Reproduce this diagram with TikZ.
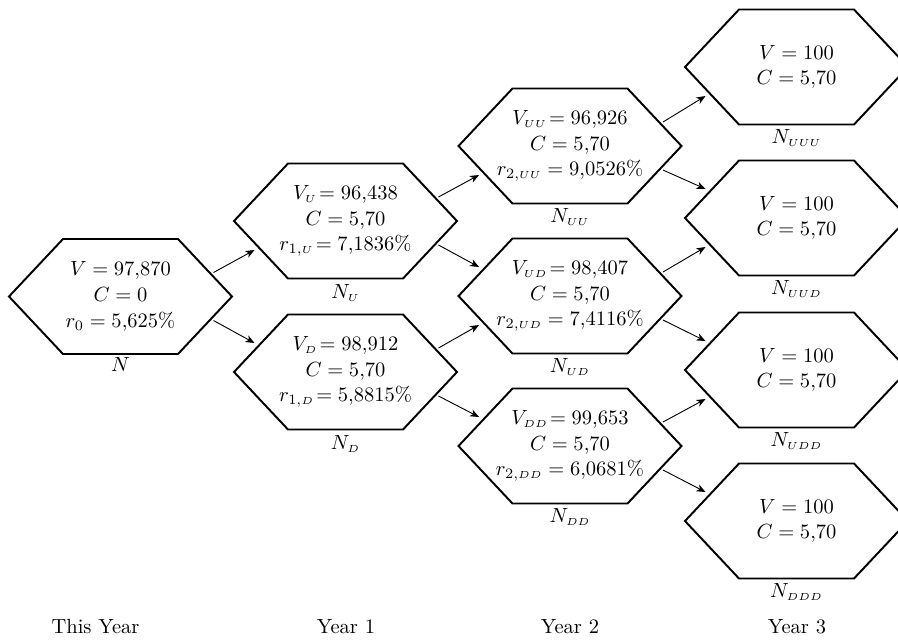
\documentclass[tikz,border=0pt]{standalone}
\usetikzlibrary{calc,arrows.meta}
\begin{document}
\begin{tikzpicture}[x=0.4878pt,y=-0.4878pt,
  hexline/.style={line width=0.95pt, line join=miter},
  txt/.style={align=center, inner sep=0pt, font=\fontsize{10}{12.6}\selectfont},
  lab/.style={anchor=north, inner sep=0pt},
  yr/.style={anchor=base, inner sep=0pt},
  arr/.style={line width=0.45pt, -{Stealth[length=4.4pt,width=3.6pt,inset=1.3pt]}}]
\clip (0,0) rectangle (898,639);
% node texts
\node[txt] (N)    at (120.5,296.5) {$V = 97{,}870$\\ $C = 0$\\ $r_{0} = 5{,}625\%$};
\node[txt] (NU)   at (345.5,221)   {$V_{\scriptscriptstyle U}\!= 96{,}438$\\ $C = 5{,}70$\\ $r_{1,\scriptscriptstyle U}\!= 7{,}1836\%$};
\node[txt] (ND)   at (345.5,372)   {$V_{\scriptscriptstyle D}\!= 98{,}912$\\ $C = 5{,}70$\\ $r_{1,\scriptscriptstyle D}\!= 5{,}8815\%$};
\node[txt] (NUU)  at (570,146)     {$V_{\scriptscriptstyle UU}\!= 96{,}926$\\ $C = 5{,}70$\\ $r_{2,\scriptscriptstyle UU} = 9{,}0526\%$};
\node[txt] (NUD)  at (570,296)     {$V_{\scriptscriptstyle UD}\!= 98{,}407$\\ $C = 5{,}70$\\ $r_{2,\scriptscriptstyle UD} = 7{,}4116\%$};
\node[txt] (NDD)  at (570,446)     {$V_{\scriptscriptstyle DD}\!= 99{,}653$\\ $C = 5{,}70$\\ $r_{2,\scriptscriptstyle DD} = 6{,}0681\%$};
\node[txt] (NUUU) at (796.5,67)    {$V = 100$\\ $C = 5{,}70$};
\node[txt] (NUUD) at (796.5,218)   {$V = 100$\\ $C = 5{,}70$};
\node[txt] (NUDD) at (796.5,370)   {$V = 100$\\ $C = 5{,}70$};
\node[txt] (NDDD) at (796.5,521)   {$V = 100$\\ $C = 5{,}70$};
% hexagons
\foreach \n in {N,NU,ND,NUU,NUD,NDD,NUUU,NUUD,NUDD,NDDD}{
  \draw[hexline] ($(\n.center)+(-111.5,0)$) -- ++(54,-57.5) -- ++(115,0) -- ++(54,57.5) -- ++(-54,57.5) -- ++(-115,0) -- cycle;
}
% labels below
\node[lab] (lN)    at ($(N.center)+(0,61)$)    {$N$};
\node[lab] (lNU)   at ($(NU.center)+(0,63)$)   {$N_{\scriptscriptstyle U}$};
\node[lab] (lND)   at ($(ND.center)+(0,63)$)   {$N_{\scriptscriptstyle D}$};
\node[lab] (lNUU)  at ($(NUU.center)+(0,62)$)  {$N_{\scriptscriptstyle UU}$};
\node[lab] (lNUD)  at ($(NUD.center)+(0,62)$)  {$N_{\scriptscriptstyle UD}$};
\node[lab] (lNDD)  at ($(NDD.center)+(0,62)$)  {$N_{\scriptscriptstyle DD}$};
\node[lab] (lNUUU) at ($(NUUU.center)+(0,62)$) {$N_{\scriptscriptstyle UUU}$};
\node[lab] (lNUUD) at ($(NUUD.center)+(0,62)$) {$N_{\scriptscriptstyle UUD}$};
\node[lab] (lNUDD) at ($(NUDD.center)+(0,62)$) {$N_{\scriptscriptstyle UDD}$};
\node[lab] (lNDDD) at ($(NDDD.center)+(0,62)$) {$N_{\scriptscriptstyle DDD}$};
% year labels
\node[yr] (y0) at (95.5,633) {This Year};
\node[yr] (y1) at (346,633) {Year 1};
\node[yr] (y2) at (570,633) {Year 2};
\node[yr] (y3) at (797,633) {Year 3};
% arrows
\draw[arr] ($(N.center)+(93,-24)$) -- ($(NU.center)+(-91,29)$);
\draw[arr] ($(N.center)+(93,24)$) -- ($(ND.center)+(-91,-29)$);
\draw[arr] ($(NU.center)+(93,-24)$) -- ($(NUU.center)+(-91,29)$);
\draw[arr] ($(NU.center)+(93,24)$) -- ($(NUD.center)+(-91,-29)$);
\draw[arr] ($(ND.center)+(93,-24)$) -- ($(NUD.center)+(-91,29)$);
\draw[arr] ($(ND.center)+(93,24)$) -- ($(NDD.center)+(-91,-29)$);
\draw[arr] ($(NUU.center)+(93,-24)$) -- ($(NUUU.center)+(-91,29)$);
\draw[arr] ($(NUU.center)+(93,24)$) -- ($(NUUD.center)+(-91,-29)$);
\draw[arr] ($(NUD.center)+(93,-24)$) -- ($(NUUD.center)+(-91,29)$);
\draw[arr] ($(NUD.center)+(93,24)$) -- ($(NUDD.center)+(-91,-29)$);
\draw[arr] ($(NDD.center)+(93,-24)$) -- ($(NUDD.center)+(-91,29)$);
\draw[arr] ($(NDD.center)+(93,24)$) -- ($(NDDD.center)+(-91,-29)$);
\end{tikzpicture}
\end{document}
